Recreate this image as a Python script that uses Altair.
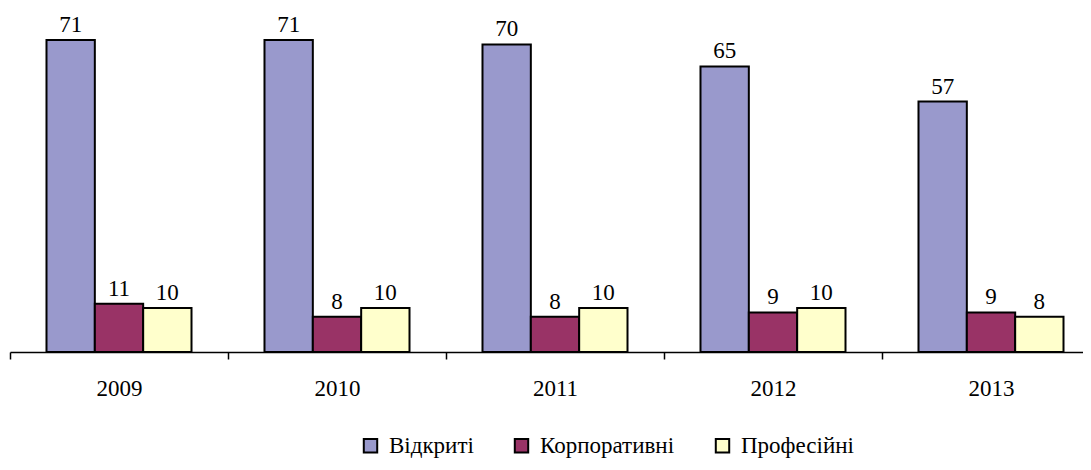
import altair as alt
import pandas as pd

years = ["2009", "2010", "2011", "2012", "2013"]
series = ["Відкриті", "Корпоративні", "Професійні"]
vidkryti = [71, 71, 70, 65, 57]
korporatyvni = [11, 8, 8, 9, 9]
profesiini = [10, 10, 10, 10, 8]
colors = ["#9999CC", "#993366", "#FFFFCC"]

rows = []
for i, y in enumerate(years):
    for s, vals in zip(series, [vidkryti, korporatyvni, profesiini]):
        rows.append({"year": y, "series": s, "value": vals[i]})
df = pd.DataFrame(rows)

FONT = "Times New Roman"
LFONT = "Liberation Serif"

x = alt.X("year:N", sort=years, title=None,
          scale=alt.Scale(range=[0, 1090], paddingInner=0, paddingOuter=0),
          axis=alt.Axis(labelAngle=0, tickBand="extent", domainColor="black", domainWidth=1.5,
                        tickColor="black", tickWidth=1.5, tickSize=7, labelPadding=18,
                        labelFont=FONT, labelFontSize=23, labelColor="black"))
xo = alt.XOffset("series:N", sort=series,
                 scale=alt.Scale(paddingInner=0, paddingOuter=0.755))
y = alt.Y("value:Q", scale=alt.Scale(domain=[0, 78.3], nice=False), axis=None)

bars = alt.Chart(df).mark_bar(stroke="black", strokeWidth=2).encode(
    x=x, xOffset=xo, y=y,
    color=alt.Color("series:N", sort=series,
                    scale=alt.Scale(domain=series, range=colors),
                    legend=alt.Legend(title=None, orient="none", direction="horizontal",
                                      legendX=349, legendY=426,
                                      symbolType="square", symbolSize=180,
                                      symbolStrokeColor="black", symbolStrokeWidth=2,
                                      labelFont=LFONT, labelFontSize=23, labelColor="black",
                                      labelOffset=7, columnPadding=36)),
)

labels = alt.Chart(df).mark_text(font=FONT, fontSize=23, baseline="alphabetic", dy=-8,
                                 color="black").encode(
    x=x, xOffset=xo, y=y, text="value:Q"
)

chart = (bars + labels).properties(
    width=1073, height=344,
    padding={"left": 2, "top": 0, "right": 0, "bottom": 106},
    autosize=alt.AutoSizeParams(type="none"),
).configure(background="white").configure_view(stroke=None)

chart.save("out.html", embed_options={"renderer": "svg", "actions": False})
